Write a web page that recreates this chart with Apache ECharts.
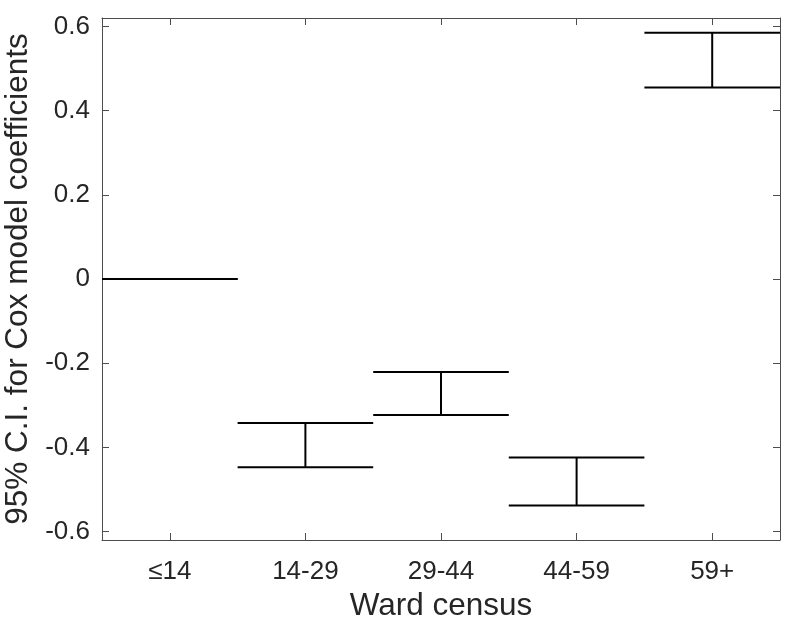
<!DOCTYPE html>
<html>
<head>
<meta charset="utf-8">
<script src="https://cdn.jsdelivr.net/npm/echarts@6/dist/echarts.min.js"></script>
<style>
  html, body { margin: 0; padding: 0; background: #fff; }
  #chart { width: 805px; height: 625px; }
</style>
</head>
<body>
<div id="chart"></div>
<script>
// ward census groups and 95% CI bounds of the Cox coefficients
const categories = ['≤14', '14-29', '29-44', '44-59', '59+'];
const ciLower = [0, -0.447, -0.323, -0.538, 0.455];
const ciUpper = [0, -0.342, -0.221, -0.424, 0.585];
const yTicks = [-0.6, -0.4, -0.2, 0, 0.2, 0.4, 0.6];

const axisColor = '#4d4d4d';
const textColor = '#262626';
const fontFamily = '"Liberation Sans", Arial, Helvetica, sans-serif';

const chart = echarts.init(document.getElementById('chart'));

const ciData = categories.map((c, i) => [i, ciLower[i], ciUpper[i]]);

function renderCI(params, api) {
    const idx = api.value(0);
    const lo = api.coord([idx, api.value(1)]);
    const hi = api.coord([idx, api.value(2)]);
    const w = api.size([1, 0])[0];
    const style = { stroke: '#000', lineWidth: 2 };
    const children = [
        { type: 'line', shape: { x1: hi[0] - w / 2, y1: hi[1], x2: hi[0] + w / 2, y2: hi[1] }, style: style },
        { type: 'line', shape: { x1: lo[0] - w / 2, y1: lo[1], x2: lo[0] + w / 2, y2: lo[1] }, style: style }
    ];
    if (api.value(1) !== api.value(2)) {
        children.push({ type: 'line', shape: { x1: hi[0], y1: hi[1], x2: lo[0], y2: lo[1] }, style: style });
    }
    return { type: 'group', children: children };
}

const option = {
    animation: false,
    backgroundColor: '#fff',
    grid: { left: 102, right: 25, top: 18, bottom: 85, outerBoundsMode: 'none', containLabel: false },
    xAxis: [
        {
            type: 'category',
            data: categories,
            boundaryGap: true,
            name: 'Ward census',
            nameLocation: 'middle',
            nameGap: 50,
            nameTextStyle: { fontSize: 31.5, color: textColor, fontFamily: fontFamily },
            axisLine: { show: true, onZero: false, lineStyle: { color: axisColor, width: 1 } },
            axisTick: { show: true, inside: true, length: 7, alignWithLabel: true, lineStyle: { color: axisColor } },
            axisLabel: { fontSize: 26, color: textColor, fontFamily: fontFamily, margin: 19 },
            splitLine: { show: false }
        },
        {
            type: 'category',
            data: categories,
            position: 'top',
            boundaryGap: true,
            axisLine: { show: true, onZero: false, lineStyle: { color: axisColor, width: 1 } },
            axisTick: { show: true, inside: true, length: 7, alignWithLabel: true, lineStyle: { color: axisColor } },
            axisLabel: { show: false },
            splitLine: { show: false }
        }
    ],
    yAxis: [
        {
            type: 'value',
            min: -0.62,
            max: 0.62,
            name: '95% C.I. for Cox model coefficients',
            nameLocation: 'middle',
            nameGap: 62,
            nameTextStyle: { fontSize: 31.5, color: textColor, fontFamily: fontFamily },
            axisLine: { show: true, onZero: false, lineStyle: { color: axisColor, width: 1 } },
            axisTick: { show: true, inside: true, length: 7, customValues: yTicks, lineStyle: { color: axisColor } },
            axisLabel: { fontSize: 26, color: textColor, fontFamily: fontFamily, margin: 12, customValues: yTicks },
            splitLine: { show: false }
        },
        {
            type: 'value',
            min: -0.62,
            max: 0.62,
            position: 'right',
            axisLine: { show: true, onZero: false, lineStyle: { color: axisColor, width: 1 } },
            axisTick: { show: true, inside: true, length: 7, customValues: yTicks, lineStyle: { color: axisColor } },
            axisLabel: { show: false },
            splitLine: { show: false }
        }
    ],
    series: [
        {
            type: 'custom',
            xAxisIndex: 0,
            yAxisIndex: 0,
            renderItem: renderCI,
            encode: { x: 0, y: [1, 2] },
            data: ciData,
            clip: false
        }
    ]
};

chart.setOption(option);
</script>
</body>
</html>
